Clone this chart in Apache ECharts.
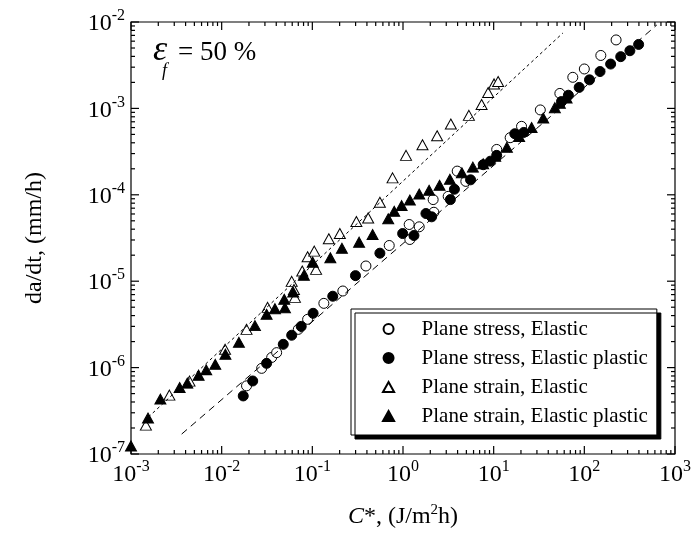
<!DOCTYPE html>
<html>
<head>
<meta charset="utf-8">
<script src="https://cdn.jsdelivr.net/npm/echarts@6/dist/echarts.min.js"></script>
<style>
html, body { margin: 0; padding: 0; background: #fff; }
#chart { width: 696px; height: 536px; }
</style>
</head>
<body>
<div id="chart"></div>
<script>
// C* (J/m2h), da/dt (mm/h) pairs
const stressElastic = [
  [0.0188, 6.15e-7], [0.0276, 9.8e-7], [0.0356, 1.31e-6], [0.0404, 1.49e-6],
  [0.070, 2.77e-6], [0.0887, 3.62e-6], [0.134, 5.54e-6], [0.217, 7.7e-6],
  [0.39, 1.5e-5], [0.705, 2.59e-5], [1.19, 3.04e-5], [1.17, 4.53e-5],
  [1.51, 4.26e-5], [2.19, 6.28e-5], [2.15, 8.8e-5], [3.15, 9.6e-5],
  [3.96, 1.88e-4], [4.93, 1.43e-4], [10.8, 3.35e-4], [15.2, 4.58e-4],
  [20.3, 6.2e-4], [32.7, 9.6e-4], [53.7, 1.49e-3], [74.6, 2.29e-3],
  [100, 2.86e-3], [152, 4.1e-3], [224, 6.2e-3]
];
const stressPlastic = [
  [0.0173, 4.7e-7], [0.022, 7.0e-7], [0.0313, 1.12e-6], [0.0478, 1.86e-6],
  [0.0592, 2.37e-6], [0.0754, 3.0e-6], [0.102, 4.25e-6], [0.168, 6.7e-6],
  [0.299, 1.16e-5], [0.556, 2.11e-5], [0.991, 3.56e-5], [1.32, 3.38e-5],
  [1.79, 6.07e-5], [2.07, 5.56e-5], [3.33, 8.8e-5], [3.69, 1.16e-4],
  [5.56, 1.49e-4], [7.66, 2.23e-4], [9.2, 2.45e-4], [10.8, 2.86e-4],
  [17.1, 5.09e-4], [21.5, 5.27e-4], [56, 1.2e-3], [66.7, 1.42e-3],
  [87.7, 1.75e-3], [114, 2.14e-3], [149, 2.67e-3], [195, 3.26e-3],
  [252, 3.97e-3], [318, 4.65e-3], [397, 5.5e-3]
];
const strainElastic = [
  [1.46e-3, 2.16e-7], [2.65e-3, 4.8e-7], [4.42e-3, 6.97e-7], [0.0109, 1.63e-6],
  [0.0188, 2.77e-6], [0.0321, 4.98e-6], [0.0592, 9.95e-6], [0.0627, 8.0e-6],
  [0.0643, 6.5e-6], [0.0774, 1.31e-5], [0.0887, 1.92e-5], [0.105, 2.23e-5],
  [0.110, 1.37e-5], [0.152, 3.1e-5], [0.201, 3.56e-5], [0.306, 4.9e-5],
  [0.413, 5.4e-5], [0.556, 8.2e-5], [0.767, 1.57e-4], [1.08, 2.86e-4],
  [1.64, 3.8e-4], [2.38, 4.83e-4], [3.37, 6.6e-4], [5.33, 8.3e-4],
  [7.36, 1.11e-3], [8.69, 1.53e-3], [10.1, 1.92e-3], [11.2, 2.05e-3]
];
const strainPlastic = [
  [1.0e-3, 1.24e-7], [1.54e-3, 2.61e-7], [2.11e-3, 4.32e-7], [3.44e-3, 5.89e-7],
  [4.18e-3, 6.61e-7], [5.57e-3, 8.17e-7], [6.76e-3, 9.41e-7], [8.5e-3, 1.09e-6],
  [0.011, 1.43e-6], [0.0155, 1.96e-6], [0.0233, 3.06e-6], [0.0313, 4.14e-6],
  [0.0387, 4.81e-6], [0.0499, 4.94e-6], [0.049, 6.17e-6], [0.0615, 7.48e-6],
  [0.0807, 1.17e-5], [0.101, 1.66e-5], [0.158, 1.87e-5], [0.212, 2.41e-5],
  [0.328, 2.83e-5], [0.462, 3.47e-5], [0.687, 5.27e-5], [0.80, 6.45e-5],
  [0.966, 7.5e-5], [1.19, 8.69e-5], [1.51, 1.02e-4], [1.94, 1.13e-4],
  [2.53, 1.29e-4], [3.29, 1.51e-4], [4.46, 1.8e-4], [5.9, 2.09e-4],
  [7.66, 2.29e-4], [10.4, 2.79e-4], [14.0, 3.56e-4], [19.1, 4.74e-4],
  [26.2, 6.0e-4], [35.2, 7.73e-4], [47.3, 1.02e-3], [53.7, 1.15e-3],
  [63.7, 1.32e-3]
];
// fitted power-law lines (end points)
const strainFit = [[1.39e-3, 2.4e-7], [58, 7.46e-3]];
const stressFit = [[3.62e-3, 1.7e-7], [630, 9.23e-3]];

const seriesNames = [
  'Plane stress, Elastic',
  'Plane stress, Elastic plastic',
  'Plane strain, Elastic',
  'Plane strain, Elastic plastic'
];
// tick label exponents
const xTickExp = [-3, -2, -1, 0, 1, 2, 3];
const yTickExp = [-7, -6, -5, -4, -3, -2];

const FONT = 'Liberation Serif';
const xMin = Math.pow(10, xTickExp[0]);
const xMax = Math.pow(10, xTickExp[xTickExp.length - 1]);
const yMin = Math.pow(10, yTickExp[0]);
const yMax = Math.pow(10, yTickExp[yTickExp.length - 1]);

const powRich = {
  b: { fontFamily: FONT, fontSize: 24, color: '#000', lineHeight: 28, verticalAlign: 'bottom' },
  s: { fontFamily: FONT, fontSize: 16, color: '#000', lineHeight: 16, verticalAlign: 'top' }
};

// the log axis the data lives on (ticks come from tickSeries)
function logAxis(min, max) {
  return {
    type: 'log',
    logBase: 10,
    min,
    max,
    axisLine: { show: false, onZero: false },
    axisTick: { show: false },
    axisLabel: { show: false },
    splitLine: { show: false }
  };
}

// value axis in exponent space, only used for the 10^n labels and the axis title
function labelAxis(position, exps, extra) {
  return Object.assign({
    type: 'value',
    position,
    min: exps[0],
    max: exps[exps.length - 1],
    interval: 1,
    axisLine: { show: false, onZero: false },
    axisTick: { show: false },
    axisLabel: {
      margin: 6,
      formatter: v => `{b|10}{s|${v}}`,
      rich: powRich
    },
    splitLine: { show: false }
  }, extra);
}

// log ticks (major at decades, minor at 2..9) drawn inward on all four sides
function tickSeries(dim) {
  const exps = dim === 'x' ? xTickExp : yTickExp;
  const data = [];
  exps.forEach((e, i) => {
    const ks = i < exps.length - 1 ? [1, 2, 3, 4, 5, 6, 7, 8, 9] : [1];
    ks.forEach(k => {
      const v = k * Math.pow(10, e);
      const major = k === 1 ? 1 : 0;
      data.push(dim === 'x' ? [v, yMin, major] : [xMin, v, major]);
    });
  });
  return {
    type: 'custom',
    silent: true,
    clip: false,
    z: 10,
    encode: { x: 0, y: 1 },
    data,
    renderItem(params, api) {
      const len = api.value(2) === 1 ? 8 : 4;
      const style = { stroke: '#000', lineWidth: 1.2 };
      const p = api.coord([api.value(0), api.value(1)]);
      if (dim === 'x') {
        const top = api.coord([api.value(0), yMax])[1];
        return {
          type: 'group',
          children: [
            { type: 'line', shape: { x1: p[0], y1: p[1], x2: p[0], y2: p[1] - len }, style },
            { type: 'line', shape: { x1: p[0], y1: top, x2: p[0], y2: top + len }, style }
          ]
        };
      }
      const right = api.coord([xMax, api.value(1)])[0];
      return {
        type: 'group',
        children: [
          { type: 'line', shape: { x1: p[0], y1: p[1], x2: p[0] + len, y2: p[1] }, style },
          { type: 'line', shape: { x1: right, y1: p[1], x2: right - len, y2: p[1] }, style }
        ]
      };
    }
  };
}

const chart = echarts.init(document.getElementById('chart'));

const option = {
  animation: false,
  backgroundColor: '#fff',
  grid: { left: 131, right: 21, top: 22, bottom: 81, show: true, borderColor: '#000', borderWidth: 1.2 },
  xAxis: [
    logAxis(xMin, xMax),
    labelAxis('bottom', xTickExp, {
      name: '{i|C}*, (J/m{s|2}h)',
      nameLocation: 'middle',
      nameGap: 49,
      nameTextStyle: {
        fontFamily: FONT, fontSize: 24, color: '#000', lineHeight: 28,
        rich: {
          i: { fontFamily: FONT, fontSize: 24, fontStyle: 'italic', color: '#000', lineHeight: 28 },
          s: { fontFamily: FONT, fontSize: 15, color: '#000', lineHeight: 15, verticalAlign: 'top' }
        }
      },
      axisLabel: {
        margin: 5,
        formatter: v => `{b|10}{s|${v}}`,
        rich: powRich
      }
    })
  ],
  yAxis: [
    logAxis(yMin, yMax),
    labelAxis('left', yTickExp, {
      name: 'da/dt, (mm/h)',
      nameLocation: 'middle',
      nameGap: 84,
      nameRotate: 90,
      nameTextStyle: { fontFamily: FONT, fontSize: 24, color: '#000' }
    })
  ],
  legend: {
    orient: 'vertical',
    left: 351,
    top: 309,
    itemWidth: 56,
    itemHeight: 10,
    itemGap: 7,
    padding: [9, 9, 8, 31],
    backgroundColor: '#fff',
    borderColor: '#000',
    borderWidth: 1,
    shadowColor: '#000',
    shadowBlur: 0,
    shadowOffsetX: 4,
    shadowOffsetY: 4,
    selectedMode: false,
    symbolKeepAspect: true,
    textStyle: { fontFamily: FONT, fontSize: 21, color: '#000', lineHeight: 22 },
    data: [
      { name: seriesNames[0], icon: 'circle' },
      { name: seriesNames[1], icon: 'circle' },
      { name: seriesNames[2], icon: 'path://M5,0L10,9L0,9Z' },
      { name: seriesNames[3], icon: 'path://M5,0L10,9L0,9Z' }
    ]
  },
  graphic: [
    { type: 'text', left: 153, top: 33, style: { text: 'ε', font: `italic 36px "${FONT}"`, fill: '#000' } },
    { type: 'text', left: 162, top: 62, style: { text: 'f', font: `italic 18px "${FONT}"`, fill: '#000' } },
    { type: 'text', left: 178, top: 39, style: { text: '= 50 %', font: `27px "${FONT}"`, fill: '#000' } }
  ],
  series: [
    tickSeries('x'),
    tickSeries('y'),
    {
      name: 'strain fit', type: 'line', data: strainFit, showSymbol: false, silent: true,
      lineStyle: { color: '#000', width: 1, type: [3, 3] }
    },
    {
      name: 'stress fit', type: 'line', data: stressFit, showSymbol: false, silent: true,
      lineStyle: { color: '#000', width: 1, type: [7, 5] }
    },
    {
      name: seriesNames[0], type: 'scatter', data: stressElastic,
      symbol: 'circle', symbolSize: 10,
      itemStyle: { color: '#fff', borderColor: '#000', borderWidth: 1, opacity: 1 }
    },
    {
      name: seriesNames[1], type: 'scatter', data: stressPlastic,
      symbol: 'circle', symbolSize: 10,
      itemStyle: { color: '#000', borderColor: '#000', borderWidth: 1, opacity: 1 }
    },
    {
      name: seriesNames[2], type: 'scatter', data: strainElastic,
      symbol: 'triangle', symbolSize: [11, 10],
      itemStyle: { color: '#fff', borderColor: '#000', borderWidth: 1, opacity: 1 }
    },
    {
      name: seriesNames[3], type: 'scatter', data: strainPlastic,
      symbol: 'triangle', symbolSize: [11, 10],
      itemStyle: { color: '#000', borderColor: '#000', borderWidth: 1, opacity: 1 }
    }
  ]
};

chart.setOption(option);
</script>
</body>
</html>
